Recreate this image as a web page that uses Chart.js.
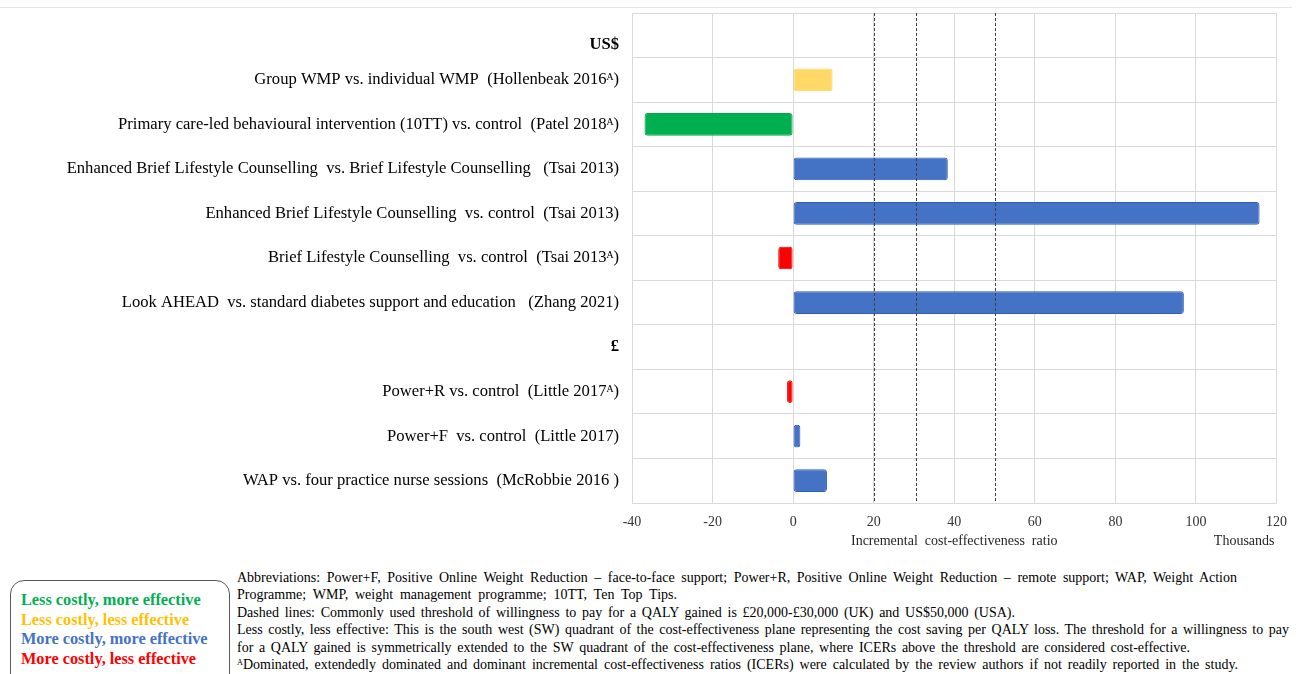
<!DOCTYPE html>
<html>
<head>
<meta charset="utf-8">
<script src="https://cdn.jsdelivr.net/npm/chart.js@4.4.0/dist/chart.umd.min.js"></script>
<style>
  body { margin: 0; background: #fff; width: 1298px; height: 674px; overflow: hidden; position: relative; font-family: "Liberation Serif", serif; }
  #topline { position: absolute; left: 0; top: 7px; width: 1292px; height: 1px; background: #e6e6e6; }
  #wrap { position: absolute; left: 0; top: 0; width: 1298px; height: 560px; }
  #legendBox { position: absolute; left: 10px; top: 580px; width: 220px; height: 110px; border: 1px solid #595959; border-radius: 14px; box-sizing: border-box; padding: 9px 0 0 10px; }
  #legendBox div { font-weight: bold; font-size: 16.3px; line-height: 19.7px; white-space: nowrap; }
  #notes { position: absolute; left: 237px; top: 569px; font-size: 14px; line-height: 17.4px; color: #000; }
  #notes div { white-space: nowrap; text-align: justify; text-align-last: justify; }
</style>
</head>
<body>
<div id="topline"></div>
<div id="wrap"><canvas id="icerChart"></canvas></div>

<div id="legendBox">
  <div style="color:#00b050">Less costly, more effective</div>
  <div style="color:#ffc000">Less costly, less effective</div>
  <div style="color:#4472c4">More costly, more effective</div>
  <div style="color:#ff0000">More costly, less effective</div>
</div>

<div id="notes">
  <div style="width:1000px">Abbreviations: Power+F, Positive Online Weight Reduction – face-to-face support; Power+R, Positive Online Weight Reduction – remote support; WAP, Weight Action</div>
  <div style="width:440px">Programme; WMP, weight management programme; 10TT, Ten Top Tips.</div>
  <div style="width:778px">Dashed lines: Commonly used threshold of willingness to pay for a QALY gained is £20,000-£30,000 (UK) and US$50,000 (USA).</div>
  <div style="width:1052px">Less costly, less effective: This is the south west (SW) quadrant of the cost-effectiveness plane representing the cost saving per QALY loss. The threshold for a willingness to pay</div>
  <div style="width:953px">for a QALY gained is symmetrically extended to the SW quadrant of the cost-effectiveness plane, where ICERs above the threshold are considered cost-effective.</div>
  <div style="width:1001px">ᴬDominated, extendedly dominated and dominant incremental cost-effectiveness ratios (ICERs) were calculated by the review authors if not readily reported in the study.</div>
</div>

<script>
// rows, top to bottom
var studies = [
  ["", "US$"],
  "Group WMP vs. individual WMP  (Hollenbeak 2016ᴬ)",
  "Primary care-led behavioural intervention (10TT) vs. control  (Patel 2018ᴬ)",
  "Enhanced Brief Lifestyle Counselling  vs. Brief Lifestyle Counselling   (Tsai 2013)",
  "Enhanced Brief Lifestyle Counselling  vs. control  (Tsai 2013)",
  "Brief Lifestyle Counselling  vs. control  (Tsai 2013ᴬ)",
  "Look AHEAD  vs. standard diabetes support and education   (Zhang 2021)",
  "£",
  "Power+R vs. control  (Little 2017ᴬ)",
  "Power+F  vs. control  (Little 2017)",
  "WAP vs. four practice nurse sessions  (McRobbie 2016 )"
];
// ICER, thousands
var icer = [null, 9.8, -36.9, 38.4, 115.8, -3.7, 97.0, null, -1.5, 1.8, 8.4];
// quadrant: G less costly more eff, Y less costly less eff, B more costly more eff, R more costly less eff
var quadrant = ["", "Y", "G", "B", "B", "R", "B", "", "R", "B", "B"];
var thresholds = [20, 30.6, 50];
var xTicks = [-40, -20, 0, 20, 40, 60, 80, 100, 120];

var fillCol = { G: "#00b050", Y: "#ffd966", B: "#4472c4", R: "#ff0000", "": "#fff" };
var edgeCol = { G: "#00a84a", Y: "#ffd35c", B: "#2f5fb3", R: "#ee0000", "": "#fff" };

var serif = "'Liberation Serif', 'Times New Roman', serif";

var extras = {
  id: "extras",
  afterDatasetsDraw: function(chart) {
    var c = chart.ctx, xs = chart.scales.x, a = chart.chartArea;
    c.save();
    c.strokeStyle = "#404040";
    c.lineWidth = 1;
    c.setLineDash([3, 2]);
    thresholds.forEach(function(t) {
      var px = Math.round(xs.getPixelForValue(t)) + 0.5;
      c.beginPath();
      c.moveTo(px, a.top);
      c.lineTo(px, a.bottom);
      c.stroke();
    });
    c.setLineDash([]);
    c.fillStyle = "#262626";
    c.font = "14px " + serif;
    c.textBaseline = "middle";
    c.textAlign = "center";
    c.fillText("Incremental  cost-effectiveness  ratio", (a.left + a.right) / 2, a.bottom + 38);
    c.textAlign = "right";
    c.fillText("Thousands", a.right - 2, a.bottom + 38);
    c.restore();
  }
};

var ctx = document.getElementById("icerChart");
new Chart(ctx, {
  type: "bar",
  data: {
    labels: studies,
    datasets: [{
      data: icer,
      backgroundColor: quadrant.map(function(q) { return fillCol[q]; }),
      borderColor: quadrant.map(function(q) { return edgeCol[q]; }),
      borderWidth: 1,
      borderRadius: 3,
      borderSkipped: false,
      categoryPercentage: 1,
      barPercentage: 0.51
    }]
  },
  options: {
    indexAxis: "y",
    responsive: true,
    maintainAspectRatio: false,
    animation: false,
    layout: { padding: { top: 13, right: 21, left: 0, bottom: 0 } },
    plugins: { legend: { display: false }, tooltip: { enabled: false } },
    scales: {
      x: {
        min: -40,
        max: 120,
        afterBuildTicks: function(s) { s.ticks = xTicks.map(function(v) { return { value: v }; }); },
        afterFit: function(s) { s.height = 57; },
        grid: { color: "#d9d9d9", drawTicks: false },
        border: { display: false },
        ticks: { padding: 11, color: "#333333", font: { family: serif, size: 14 } }
      },
      y: {
        afterFit: function(s) { s.width = 632; s.paddingTop = 0; s.paddingBottom = 0; },
        grid: { color: "#d9d9d9", drawTicks: false, offset: true },
        border: { display: false },
        ticks: {
          padding: 13,
          color: "#000",
          font: function(c) {
            var i = c.index;
            return { family: serif, size: 16.6, weight: (i === 0 || i === 7) ? "bold" : "normal", lineHeight: 1.15 };
          }
        }
      }
    }
  },
  plugins: [extras]
});
</script>
</body>
</html>
